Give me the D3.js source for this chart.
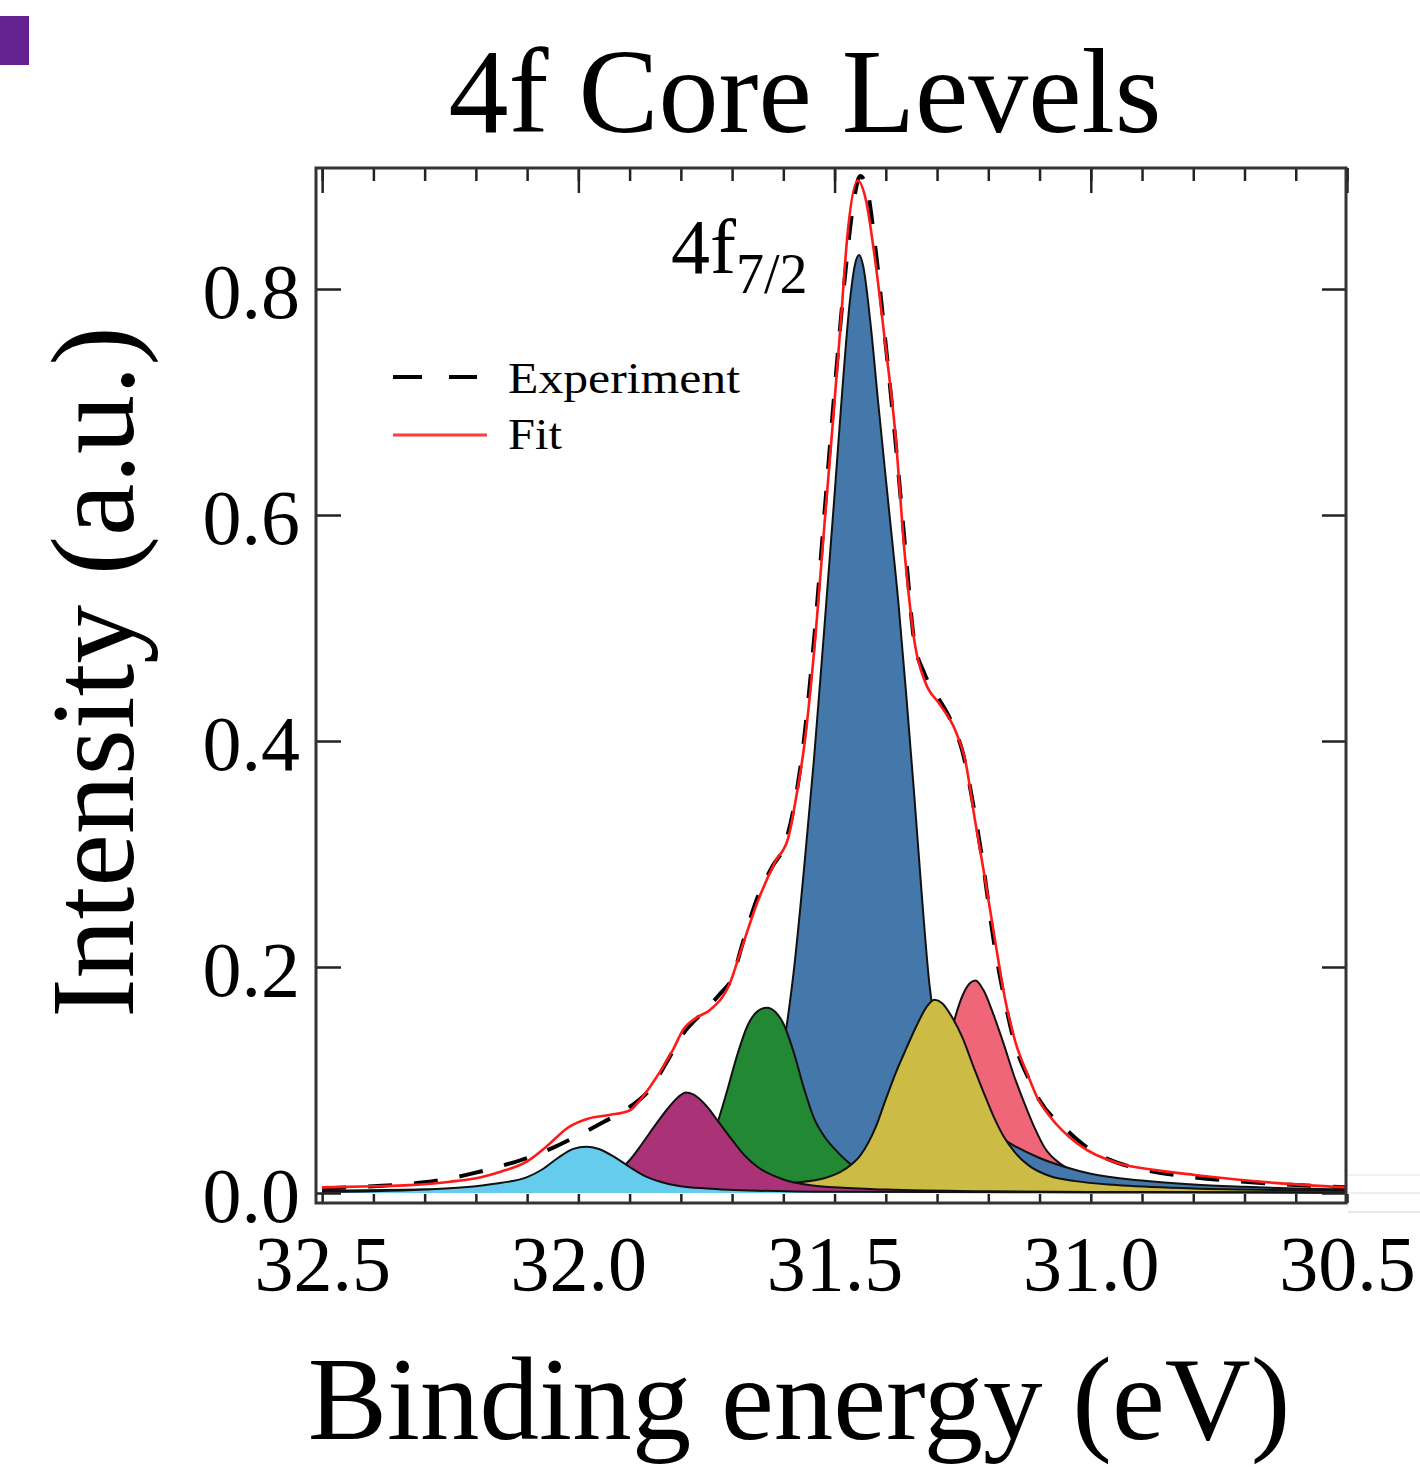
<!DOCTYPE html>
<html>
<head>
<meta charset="utf-8">
<script src="https://cdn.jsdelivr.net/npm/d3@7"></script>
<style>
  body { margin: 0; background: #fff; }
  text { font-family: "Liberation Serif", "Times New Roman", serif; fill: #000; }
</style>
</head>
<body>
<script>
// gemeten waarden uit de figuur: [bindingsenergie (eV), intensiteit (a.u.)]
var cyanPeak = [[32.5,0.001],[32.4,0.0015],[32.3,0.003],[32.2,0.006],[32.15,0.009],[32.1,0.014],[32.07,0.021],[32.04,0.031],[32.01,0.039],[31.985,0.041],[31.96,0.039],[31.93,0.032],[31.9,0.023],[31.87,0.015],[31.84,0.01],[31.8,0.006],[31.75,0.004],[31.65,0.002],[31.5,0.001],[31.0,0.0005],[30.5,0.0003]];
var magentaPeak = [[32.5,0.0008],[32.3,0.0015],[32.1,0.003],[32.0,0.006],[31.95,0.012],[31.92,0.02],[31.9,0.029],[31.875,0.044],[31.85,0.06],[31.825,0.075],[31.805,0.085],[31.79,0.089],[31.775,0.087],[31.75,0.077],[31.725,0.062],[31.7,0.047],[31.675,0.033],[31.65,0.023],[31.6,0.012],[31.55,0.007],[31.5,0.005],[31.4,0.003],[31.2,0.0015],[30.9,0.0008],[30.5,0.0005]];
var greenPeak = [[32.3,0.0008],[32.1,0.0015],[31.95,0.003],[31.85,0.006],[31.8,0.011],[31.77,0.02],[31.75,0.035],[31.73,0.06],[31.71,0.09],[31.69,0.122],[31.67,0.148],[31.65,0.161],[31.632,0.164],[31.615,0.16],[31.6,0.15],[31.58,0.125],[31.56,0.093],[31.54,0.066],[31.52,0.05],[31.5,0.039],[31.47,0.026],[31.43,0.016],[31.4,0.011],[31.35,0.007],[31.25,0.004],[31.1,0.002],[30.8,0.001],[30.5,0.0005]];
var bluePeak = [[32.5,0.002],[32.3,0.003],[32.1,0.005],[31.95,0.008],[31.8,0.016],[31.72,0.03],[31.67,0.05],[31.64,0.07],[31.62,0.095],[31.6,0.13],[31.58,0.195],[31.56,0.285],[31.54,0.385],[31.52,0.5],[31.5,0.618],[31.485,0.71],[31.47,0.79],[31.46,0.822],[31.452,0.83],[31.444,0.82],[31.43,0.77],[31.415,0.70],[31.395,0.61],[31.375,0.52],[31.36,0.44],[31.345,0.355],[31.33,0.265],[31.315,0.185],[31.3,0.14],[31.28,0.108],[31.25,0.08],[31.2,0.057],[31.15,0.042],[31.1,0.031],[31.05,0.023],[31.0,0.017],[30.9,0.011],[30.8,0.0075],[30.7,0.0055],[30.6,0.004],[30.5,0.003]];
var yellowPeak = [[32.0,0.001],[31.8,0.003],[31.65,0.006],[31.58,0.009],[31.52,0.013],[31.48,0.021],[31.45,0.033],[31.42,0.058],[31.4,0.083],[31.38,0.107],[31.36,0.128],[31.34,0.148],[31.32,0.165],[31.305,0.171],[31.29,0.168],[31.27,0.155],[31.25,0.137],[31.23,0.113],[31.21,0.09],[31.19,0.068],[31.17,0.05],[31.15,0.037],[31.12,0.024],[31.08,0.015],[31.03,0.0105],[30.95,0.007],[30.8,0.004],[30.6,0.0025],[30.5,0.002]];
var pinkPeak = [[31.7,0.002],[31.55,0.005],[31.45,0.01],[31.38,0.025],[31.33,0.055],[31.3,0.09],[31.28,0.128],[31.265,0.155],[31.25,0.175],[31.235,0.186],[31.225,0.188],[31.21,0.18],[31.19,0.158],[31.17,0.132],[31.15,0.104],[31.13,0.08],[31.11,0.058],[31.09,0.04],[31.06,0.026],[31.03,0.019],[31.0,0.014],[30.9,0.008],[30.8,0.005],[30.65,0.003],[30.5,0.002]];

var experiment = [[32.5,0.004],[32.4,0.006],[32.3,0.0095],[32.25,0.013],[32.2,0.018],[32.15,0.024],[32.1,0.031],[32.05,0.040],[32.0,0.051],[31.95,0.063],[31.9,0.076],[31.86,0.092],[31.82,0.122],[31.8,0.138],[31.75,0.163],[31.72,0.178],[31.7,0.19],[31.68,0.22],[31.65,0.262],[31.62,0.29],[31.6,0.305],[31.58,0.34],[31.56,0.40],[31.54,0.49],[31.52,0.60],[31.5,0.71],[31.48,0.81],[31.465,0.87],[31.45,0.90],[31.435,0.885],[31.42,0.835],[31.40,0.75],[31.38,0.66],[31.36,0.56],[31.345,0.49],[31.325,0.46],[31.30,0.44],[31.27,0.415],[31.25,0.39],[31.23,0.345],[31.21,0.29],[31.19,0.225],[31.17,0.175],[31.15,0.135],[31.12,0.1],[31.1,0.082],[31.05,0.057],[31.0,0.038],[30.95,0.027],[30.9,0.021],[30.8,0.014],[30.7,0.01],[30.6,0.007],[30.5,0.005]];
var fit = [[32.5,0.005],[32.4,0.006],[32.33,0.007],[32.25,0.010],[32.19,0.014],[32.15,0.019],[32.1,0.028],[32.06,0.042],[32.02,0.058],[31.98,0.066],[31.94,0.069],[31.9,0.073],[31.88,0.082],[31.86,0.094],[31.815,0.127],[31.795,0.145],[31.77,0.155],[31.743,0.162],[31.704,0.186],[31.684,0.213],[31.65,0.258],[31.616,0.293],[31.59,0.315],[31.577,0.345],[31.558,0.40],[31.538,0.489],[31.519,0.596],[31.503,0.684],[31.489,0.764],[31.474,0.852],[31.455,0.896],[31.439,0.879],[31.421,0.826],[31.402,0.755],[31.382,0.675],[31.362,0.560],[31.343,0.485],[31.323,0.452],[31.294,0.432],[31.265,0.41],[31.245,0.383],[31.226,0.33],[31.206,0.277],[31.187,0.224],[31.167,0.171],[31.148,0.135],[31.119,0.10],[31.105,0.085],[31.08,0.068],[31.027,0.044],[30.951,0.027],[30.87,0.02],[30.797,0.016],[30.642,0.009],[30.5,0.005]];

var xTickValues = [32.5, 32.0, 31.5, 31.0, 30.5];
var xTickLabels = ["32.5", "32.0", "31.5", "31.0", "30.5"];
var yTickValues = [0, 0.2, 0.4, 0.6, 0.8];
var yTickLabels = ["0.0", "0.2", "0.4", "0.6", "0.8"];

// volgorde van tekenen: onderste eerst
var peaks = [
  {data: pinkPeak, color: "#ee6677"},
  {data: bluePeak, color: "#4477aa"},
  {data: greenPeak, color: "#228833"},
  {data: yellowPeak, color: "#ccbb44"},
  {data: magentaPeak, color: "#aa3377"},
  {data: cyanPeak, color: "#66ccee"}
];

var margin = {top: 168, right: 73, bottom: 264, left: 316},
    width = 1420 - margin.left - margin.right,
    height = 1467 - margin.top - margin.bottom;

var x = d3.scaleLinear().domain([32.512, 30.5]).range([0, width]);
var y = d3.scaleLinear().domain([-0.00885, 0.9071]).range([height, 0]);

var svg = d3.select("body").append("svg")
    .attr("width", 1420)
    .attr("height", 1467);

// paars blokje linksboven
svg.append("rect").attr("x", 0).attr("y", 16).attr("width", 29).attr("height", 49).attr("fill", "#64218f");

// vage lijntjes rechts naast de grafiek
svg.append("line").attr("x1", 1348).attr("x2", 1420).attr("y1", 1175).attr("y2", 1175).attr("stroke", "#ececec").attr("stroke-width", 1.5);
svg.append("line").attr("x1", 1348).attr("x2", 1420).attr("y1", 1193).attr("y2", 1193).attr("stroke", "#f1e6ee").attr("stroke-width", 1.5);
svg.append("line").attr("x1", 1348).attr("x2", 1420).attr("y1", 1212).attr("y2", 1212).attr("stroke", "#e2e2e2").attr("stroke-width", 1.5);

svg.append("text")
    .attr("x", 805).attr("y", 132)
    .attr("text-anchor", "middle")
    .style("font-size", "120px")
    .text("4f Core Levels");

var g = svg.append("g")
    .attr("transform", "translate(" + margin.left + "," + margin.top + ")");

var area = d3.area()
    .x(function(d) { return x(d[0]); })
    .y0(y(0))
    .y1(function(d) { return y(d[1]); })
    .curve(d3.curveMonotoneX);

var line = d3.line()
    .x(function(d) { return x(d[0]); })
    .y(function(d) { return y(d[1]); })
    .curve(d3.curveMonotoneX);

peaks.forEach(function(p) {
  g.append("path").datum(p.data).attr("d", area).attr("fill", p.color);
  g.append("path").datum(p.data).attr("d", line)
      .attr("fill", "none").attr("stroke", "#111").attr("stroke-width", 2);
});

g.append("path").datum(experiment).attr("d", line)
    .attr("fill", "none").attr("stroke", "#000")
    .attr("stroke-width", 4).attr("stroke-dasharray", "24,22");

g.append("path").datum(fit).attr("d", line)
    .attr("fill", "none").attr("stroke", "#ff1a1a").attr("stroke-width", 2.6);

// assen
var minorTicks = x.ticks(20);

var topMinor = g.append("g").call(d3.axisTop(x).tickValues(minorTicks).tickSize(-13).tickFormat(""));
var topMajor = g.append("g").call(d3.axisTop(x).tickValues(xTickValues).tickSize(-25).tickFormat(""));
var bottomMinor = g.append("g").attr("transform", "translate(0," + height + ")")
    .call(d3.axisBottom(x).tickValues(minorTicks).tickSize(-9).tickFormat(""));
var bottomLabels = g.append("g").attr("transform", "translate(0," + height + ")")
    .call(d3.axisBottom(x).tickValues(xTickValues).tickSize(0).tickPadding(32)
      .tickFormat(function(d, i) { return xTickLabels[i]; }));
var leftAxis = g.append("g")
    .call(d3.axisLeft(y).tickValues(yTickValues).tickSize(-25).tickPadding(16)
      .tickFormat(function(d, i) { return yTickLabels[i]; }));
var rightAxis = g.append("g").attr("transform", "translate(" + width + ",0)")
    .call(d3.axisRight(y).tickValues(yTickValues).tickSize(-25).tickFormat(""));

[topMinor, topMajor, bottomMinor, bottomLabels, leftAxis, rightAxis].forEach(function(a) {
  a.select(".domain").remove();
  a.selectAll(".tick line").attr("stroke", "#222").attr("stroke-width", 2.5);
  a.selectAll("text")
      .style("font-size", "78px")
      .style("font-family", "'Liberation Serif', 'Times New Roman', serif")
      .attr("fill", "#000");
});
leftAxis.selectAll("text").attr("dy", "0.36em");

g.append("rect")
    .attr("x", 0).attr("y", 0)
    .attr("width", width - 1).attr("height", height)
    .attr("fill", "none").attr("stroke", "#333").attr("stroke-width", 3);

// annotatie
g.append("text")
    .attr("x", 671 - margin.left).attr("y", 273 - margin.top)
    .style("font-size", "78px")
    .text("4f")
  .append("tspan")
    .attr("dy", 20)
    .style("font-size", "56px")
    .text("7/2");

// legenda
var legend = svg.append("g");
legend.append("line").attr("x1", 393).attr("x2", 477).attr("y1", 377).attr("y2", 377)
    .attr("stroke", "#000").attr("stroke-width", 4).attr("stroke-dasharray", "29,27");
legend.append("line").attr("x1", 393).attr("x2", 487).attr("y1", 435).attr("y2", 435)
    .attr("stroke", "#ff3b3b").attr("stroke-width", 3);
legend.append("text").attr("x", 508).attr("y", 393)
    .style("font-size", "44px")
    .attr("textLength", 232).attr("lengthAdjust", "spacingAndGlyphs")
    .text("Experiment");
legend.append("text").attr("x", 508).attr("y", 449)
    .style("font-size", "44px")
    .attr("textLength", 54).attr("lengthAdjust", "spacingAndGlyphs")
    .text("Fit");

// aslabels
svg.append("text")
    .attr("transform", "translate(133,672) rotate(-90)")
    .attr("text-anchor", "middle")
    .style("font-size", "118px")
    .text("Intensity (a.u.)");

svg.append("text")
    .attr("x", 799).attr("y", 1439)
    .attr("text-anchor", "middle")
    .style("font-size", "119px")
    .text("Binding energy (eV)");
</script>
</body>
</html>
